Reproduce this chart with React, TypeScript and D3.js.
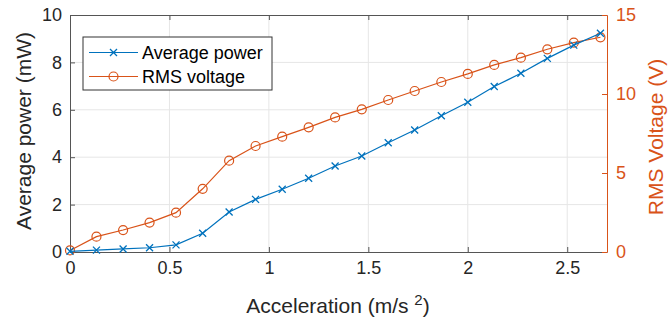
import React, { useEffect, useRef } from 'react';
import * as d3 from 'd3';

const accel = [0, 0.133, 0.267, 0.4, 0.533, 0.667, 0.8, 0.933, 1.067, 1.2, 1.333, 1.467, 1.6, 1.733, 1.867, 2.0, 2.133, 2.267, 2.4, 2.533, 2.667];
const avgPower = [0.03, 0.08, 0.13, 0.18, 0.3, 0.79, 1.69, 2.22, 2.65, 3.11, 3.63, 4.05, 4.61, 5.15, 5.75, 6.32, 6.98, 7.54, 8.17, 8.73, 9.23];
const rmsVoltage = [0.1, 0.97, 1.39, 1.86, 2.49, 4.0, 5.78, 6.71, 7.3, 7.89, 8.52, 9.03, 9.62, 10.19, 10.76, 11.27, 11.84, 12.3, 12.83, 13.25, 13.59];
const xTicks = [0, 0.5, 1, 1.5, 2, 2.5];
const yLeftTicks = [0, 2, 4, 6, 8, 10];
const yRightTicks = [0, 5, 10, 15];

const BLUE = '#0072BD';
const ORANGE = '#D95319';
const DARK = '#262626';
const FONT = '"Liberation Sans", Arial, Helvetica, sans-serif';

const App = () => {
  const svgRef = useRef<SVGSVGElement>(null);
  useEffect(() => {
    const svg = d3.select(svgRef.current);
    svg.selectAll('*').remove();
    const W = 668, H = 320;
    const L = 70, R = 607, T = 15, B = 252;

    const x = d3.scaleLinear().domain([0, 2.7]).range([L, R]);
    const yl = d3.scaleLinear().domain([0, 10]).range([B, T]);
    const yr = d3.scaleLinear().domain([0, 15]).range([B, T]);

    svg.append('rect').attr('width', W).attr('height', H).attr('fill', '#fff');

    // grid
    const grid = svg.append('g').attr('stroke', '#e6e6e6').attr('stroke-width', 1);
    xTicks.slice(1).forEach(t => grid.append('line').attr('x1', x(t)).attr('x2', x(t)).attr('y1', T).attr('y2', B));
    yLeftTicks.slice(1, -1).forEach(t => grid.append('line').attr('x1', L).attr('x2', R).attr('y1', yl(t)).attr('y2', yl(t)));

    // axes
    const xa = svg.append('g').attr('transform', `translate(0,${B})`)
      .call(d3.axisBottom(x).tickValues(xTicks).tickFormat(d => String(d)).tickSizeInner(-5).tickSizeOuter(0).tickPadding(9));
    xa.select('.domain').attr('stroke', '#555');
    xa.selectAll('line').attr('stroke', '#555');
    xa.selectAll('text').attr('fill', DARK).style('font-family', FONT).style('font-size', '18px');

    const top = svg.append('g').attr('transform', `translate(0,${T})`)
      .call(d3.axisTop(x).tickValues(xTicks).tickFormat(() => '').tickSizeInner(-5).tickSizeOuter(0));
    top.selectAll('path,line').attr('stroke', '#555');

    const ya = svg.append('g').attr('transform', `translate(${L},0)`)
      .call(d3.axisLeft(yl).tickValues(yLeftTicks).tickSizeInner(-5).tickSizeOuter(0).tickPadding(8));
    ya.selectAll('path,line').attr('stroke', '#555');
    ya.selectAll('text').attr('fill', DARK).style('font-family', FONT).style('font-size', '18px');

    const yb = svg.append('g').attr('transform', `translate(${R},0)`)
      .call(d3.axisRight(yr).tickValues(yRightTicks).tickSizeInner(-5).tickSizeOuter(0).tickPadding(9));
    yb.selectAll('path,line').attr('stroke', ORANGE);
    yb.selectAll('text').attr('fill', ORANGE).style('font-family', FONT).style('font-size', '18px');

    // series
    const pts = accel.map((a, i) => ({ a, p: avgPower[i], v: rmsVoltage[i] }));
    svg.append('path').datum(pts).attr('fill', 'none').attr('stroke', ORANGE).attr('stroke-width', 1.2)
      .attr('d', d3.line<any>().x(d => x(d.a)).y(d => yr(d.v)));
    svg.selectAll('circle.v').data(pts).join('circle').attr('class', 'v')
      .attr('cx', d => x(d.a)).attr('cy', d => yr(d.v)).attr('r', 4.5)
      .attr('fill', 'none').attr('stroke', ORANGE).attr('stroke-width', 1.2);

    svg.append('path').datum(pts).attr('fill', 'none').attr('stroke', BLUE).attr('stroke-width', 1.2)
      .attr('d', d3.line<any>().x(d => x(d.a)).y(d => yl(d.p)));
    const cross = (g: any, cx: number, cy: number, s = 3.5) => {
      g.append('path').attr('d', `M${cx - s},${cy - s}L${cx + s},${cy + s}M${cx - s},${cy + s}L${cx + s},${cy - s}`)
        .attr('stroke', BLUE).attr('stroke-width', 1.3).attr('fill', 'none');
    };
    const cg = svg.append('g');
    pts.forEach(d => cross(cg, x(d.a), yl(d.p)));

    // labels
    svg.append('text').attr('x', 338).attr('y', 313).attr('text-anchor', 'middle')
      .attr('fill', DARK).style('font-family', FONT).style('font-size', '21px')
      .html('Acceleration (m/s <tspan dy="-8" font-size="15px">2</tspan><tspan dy="8">)</tspan>');
    svg.append('text').attr('transform', `translate(31,131) rotate(-90)`).attr('text-anchor', 'middle')
      .attr('fill', DARK).style('font-family', FONT).style('font-size', '21px').text('Average power (mW)');
    svg.append('text').attr('transform', `translate(663,137) rotate(-90)`).attr('text-anchor', 'middle')
      .attr('fill', ORANGE).style('font-family', FONT).style('font-size', '21px').text('RMS Voltage (V)');

    // legend
    const lg = svg.append('g');
    lg.append('rect').attr('x', 83).attr('y', 37).attr('width', 189).attr('height', 53)
      .attr('fill', '#fff').attr('stroke', '#333').attr('stroke-width', 1);
    const items = [
      { name: 'Average power', color: BLUE, y: 52.5, mark: 'x' },
      { name: 'RMS voltage', color: ORANGE, y: 76.5, mark: 'o' }
    ];
    items.forEach(it => {
      lg.append('line').attr('x1', 89).attr('x2', 138).attr('y1', it.y).attr('y2', it.y)
        .attr('stroke', it.color).attr('stroke-width', 1.2);
      if (it.mark === 'x') cross(lg, 113.5, it.y);
      else lg.append('circle').attr('cx', 113.5).attr('cy', it.y).attr('r', 4.5).attr('fill', 'none').attr('stroke', it.color).attr('stroke-width', 1.2);
      lg.append('text').attr('x', 142).attr('y', it.y + 6).attr('fill', '#000')
        .style('font-family', FONT).style('font-size', '18px').text(it.name);
    });
  }, []);

  return <svg ref={svgRef} width={668} height={320} style={{ position: 'absolute', left: 0, top: 0 }} />;
};

export default App;
